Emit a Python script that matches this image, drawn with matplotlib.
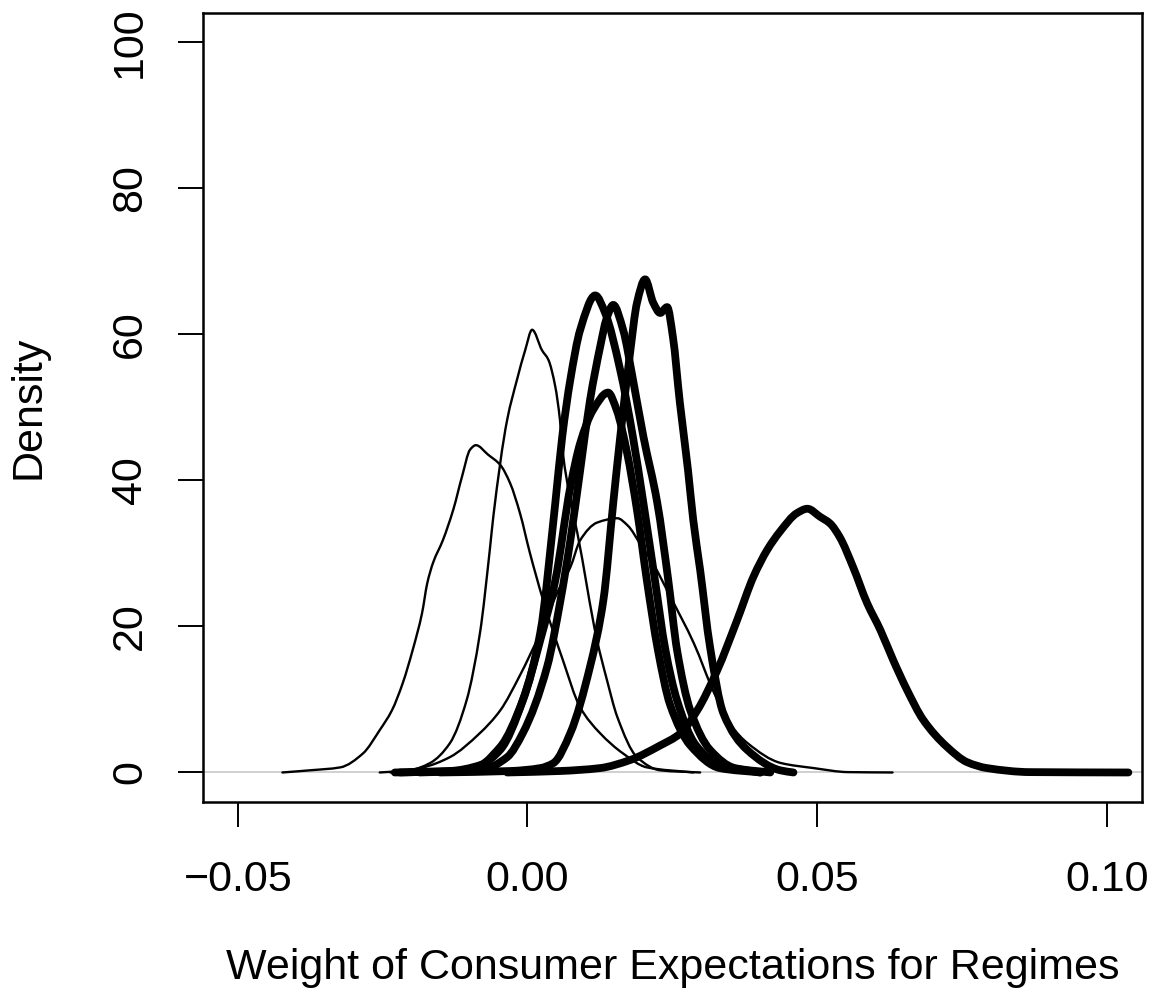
import matplotlib
matplotlib.use("Agg")
import matplotlib.pyplot as plt
import numpy as np
from matplotlib.path import Path
from matplotlib.patches import PathPatch

plt.rcParams['font.family'] = ['Liberation Sans', 'DejaVu Sans']

# ---- data: density curves (x = weight, y = density) ----
thin1_x = [-0.0423, -0.0375, -0.0323, -0.0284, -0.0255, -0.0234, -0.0215, -0.0198, -0.0182, -0.0173,
           -0.0163, -0.0146, -0.0128, -0.0113, -0.0099, -0.0089, -0.0068, -0.0047, -0.0030, -0.0013,
           0.0004, 0.0027, 0.0061, 0.0091, 0.0125, 0.0165, 0.0206, 0.0286]
thin1_y = [0.0, 0.3, 0.7, 2.6, 5.8, 8.5, 12.3, 16.8, 21.8, 25.9,
           28.7, 31.8, 36.0, 40.5, 44.2, 44.8, 43.5, 42.1, 39.6, 35.5,
           30.1, 23.6, 15.4, 8.9, 5.4, 2.6, 0.7, 0.0]

thin2_x = [-0.0255, -0.0203, -0.0168, -0.0134, -0.0105, -0.0082, -0.0065, -0.0059, -0.0035, -0.0018,
           -0.0004, 0.0008, 0.0025, 0.0036, 0.0048, 0.0056, 0.0061, 0.0074, 0.0086, 0.0120,
           0.0137, 0.0155, 0.0189, 0.0229, 0.0298]
thin2_y = [0.0, 0.3, 1.3, 4.0, 9.9, 19.1, 30.5, 35.0, 48.3, 53.8,
           57.8, 60.6, 57.8, 56.5, 52.8, 48.3, 43.8, 37.3, 32.8, 18.1,
           12.7, 7.6, 2.1, 0.3, 0.0]

thin3_x = [-0.0237, -0.0180, -0.0134, -0.0082, -0.0047, -0.0013, 0.0022, 0.0056, 0.0074, 0.0091,
           0.0120, 0.0155, 0.0173, 0.0196, 0.0218, 0.0247, 0.0287, 0.0322, 0.0351, 0.0380,
           0.0437, 0.0494, 0.0553, 0.0630]
thin3_y = [0.0, 0.7, 2.1, 5.4, 8.5, 13.3, 19.1, 25.4, 28.1, 31.8,
           34.2, 34.8, 33.8, 31.1, 28.4, 24.0, 17.7, 10.9, 6.5, 4.0,
           1.3, 0.6, 0.05, 0.0]

thick1_x = [-0.0229, -0.0134, -0.0082, -0.0047, -0.0008, 0.0022, 0.0048, 0.0060, 0.0074,
            0.0091, 0.0117, 0.0134, 0.0160, 0.0182, 0.0200, 0.0220, 0.0238, 0.0258, 0.0290,
            0.0332, 0.0402]
thick1_y = [0.0, 0.2, 1.0, 3.1, 9.9, 19.1, 36.9, 46.0, 53.8,
            60.6, 65.3, 62.9, 55.1, 45.9, 36.9, 26.3, 16.8, 9.9, 3.8,
            1.0, 0.0]

thick2_x = [-0.0186, -0.0082, -0.0035, -0.0008, 0.0034, 0.0057, 0.0074, 0.0091, 0.0108, 0.0126,
            0.0136, 0.0148, 0.0165, 0.0182, 0.0200, 0.0224, 0.0243, 0.0258, 0.0281, 0.0315,
            0.0358, 0.0419]
thick2_y = [0.0, 0.3, 2.1, 5.4, 14.5, 23.6, 31.8, 41.4, 51.0, 58.5,
            62.0, 64.0, 60.6, 53.8, 46.0, 36.9, 26.3, 16.8, 8.5, 3.1,
            0.6, 0.0]

thick3_x = [-0.0151, -0.0030, 0.0022, 0.0045, 0.0074, 0.0108, 0.0131, 0.0148, 0.0160, 0.0177,
            0.0189, 0.0203, 0.0217, 0.0229, 0.0241, 0.0251, 0.0263, 0.0277, 0.0286, 0.0298,
            0.0315, 0.0338, 0.0379, 0.0436, 0.0459]
thick3_y = [0.0, 0.2, 0.6, 1.3, 5.4, 14.5, 23.6, 36.9, 45.9, 57.4,
            64.3, 67.5, 64.3, 62.9, 63.7, 59.6, 50.6, 41.4, 34.6, 27.7,
            17.2, 8.1, 3.1, 0.3, 0.0]

thick4_x = [-0.0220, -0.0099, -0.0047, -0.0008, 0.0022, 0.0048, 0.0074, 0.0091, 0.0113, 0.0139,
            0.0154, 0.0172, 0.0189, 0.0206, 0.0225, 0.0246, 0.0281, 0.0332, 0.0402]
thick4_y = [0.0, 0.3, 3.5, 9.9, 18.1, 26.3, 39.1, 45.1, 49.6, 52.0,
            49.6, 43.7, 35.9, 26.3, 16.8, 9.3, 3.7, 0.6, 0.0]

thick5_x = [-0.0035, 0.0056, 0.0125, 0.0177, 0.0229, 0.0263, 0.0293, 0.0327, 0.0362, 0.0390,
            0.0414, 0.0436, 0.0465, 0.0483, 0.0505, 0.0522, 0.0539, 0.0562, 0.0586, 0.0609,
            0.0631, 0.0655, 0.0683, 0.0724, 0.0759, 0.0793, 0.0867, 0.1037]
thick5_y = [0.0, 0.2, 0.6, 1.7, 3.7, 5.3, 8.5, 13.9, 20.9, 26.8,
            30.5, 33.0, 35.5, 36.1, 35.0, 34.1, 32.2, 28.1, 23.2, 19.5,
            15.4, 11.3, 7.2, 3.5, 1.4, 0.6, 0.05, 0.0]

thin_curves = [(thin1_x, thin1_y), (thin2_x, thin2_y), (thin3_x, thin3_y)]
thick_curves = [(thick1_x, thick1_y), (thick2_x, thick2_y), (thick3_x, thick3_y),
                (thick4_x, thick4_y), (thick5_x, thick5_y)]

x_ticks = [-0.05, 0.00, 0.05, 0.10]
x_tick_labels = ["\u22120.05", "0.00", "0.05", "0.10"]
y_ticks = [0, 20, 40, 60, 80, 100]
x_label = "Weight of Consumer Expectations for Regimes"
y_label = "Density"


def smooth_path(xs, ys):
    """Monotone cubic (Fritsch-Carlson) Bezier path through the read points."""
    x = np.asarray(xs, float)
    y = np.asarray(ys, float)
    h = np.diff(x)
    d = np.diff(y) / h
    m = np.zeros_like(y)
    m[0], m[-1] = d[0], d[-1]
    for i in range(1, len(x) - 1):
        if d[i - 1] * d[i] <= 0:
            m[i] = 0.0
        else:
            w1 = 2 * h[i] + h[i - 1]
            w2 = h[i] + 2 * h[i - 1]
            m[i] = (w1 + w2) / (w1 / d[i - 1] + w2 / d[i])
    verts = [(x[0], y[0])]
    codes = [Path.MOVETO]
    for i in range(len(x) - 1):
        verts += [(x[i] + h[i] / 3, y[i] + m[i] * h[i] / 3),
                  (x[i + 1] - h[i] / 3, y[i + 1] - m[i + 1] * h[i] / 3),
                  (x[i + 1], y[i + 1])]
        codes += [Path.CURVE4] * 3
    return Path(verts, codes)


# ---- figure ----
W, H = 1156, 1002
fig = plt.figure(figsize=(W / 100, H / 100), dpi=100)
ax = fig.add_axes([203 / W, 1 - 801.7 / H, (1141.7 - 203) / W, (801.7 - 12.7) / H])

ax.axhline(0, color="#c8c8c8", lw=1.2, zorder=1)
for xs, ys in thin_curves:
    ax.add_patch(PathPatch(smooth_path(xs, ys), fill=False, edgecolor="black", lw=1.7,
                           capstyle="round", joinstyle="round", zorder=2))
for xs, ys in thick_curves:
    ax.add_patch(PathPatch(smooth_path(xs, ys), fill=False, edgecolor="black", lw=5.6,
                           capstyle="round", joinstyle="round", zorder=3))

ax.set_xlim(-0.056, 0.106)
ax.set_ylim(-4, 104)

for s in ax.spines.values():
    s.set_linewidth(1.8)

ax.set_xticks(x_ticks)
ax.set_xticklabels(x_tick_labels)
ax.set_yticks(y_ticks)
ax.set_yticklabels([str(v) for v in y_ticks], rotation=90, va="center")

ax.tick_params(axis="both", direction="out", length=18, width=1.4, labelsize=31, color="black")
ax.tick_params(axis="x", pad=24)
ax.tick_params(axis="y", pad=20)

fig.text(28 / W, 1 - 407 / H, y_label, rotation=90, ha="center", va="center", fontsize=31)
fig.text((203 + 1141.7) / 2 / W, 1 - 968 / H, x_label, ha="center", va="center", fontsize=31)

fig.savefig("out.png", dpi=100)
